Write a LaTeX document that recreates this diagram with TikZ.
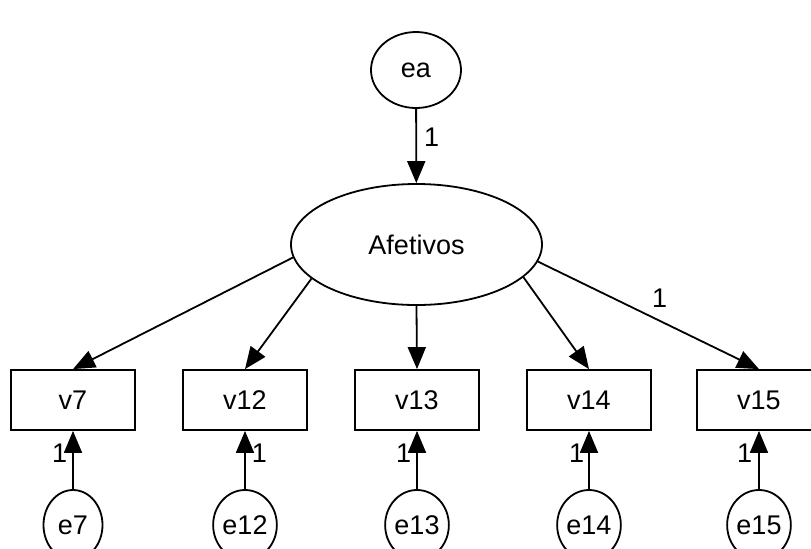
\documentclass[tikz,border=0pt]{standalone}
\usepackage{fontspec}
\setmainfont{Liberation Sans}
\usetikzlibrary{arrows.meta}
\usetikzlibrary{shapes.geometric}

\begin{document}
\begin{tikzpicture}[%%
  x=0.5pt,y=-0.5pt,%%
  every node/.style={font=\fontsize{13.5}{16}\selectfont},%%
  latentStyle/.style={ellipse,draw,line width=0.9pt,inner sep=0pt},%%
  boxStyle/.style={rectangle,draw,line width=0.9pt,minimum width=62pt,%%
    minimum height=30pt,inner sep=0pt},%%
  errorStyle/.style={ellipse,draw,line width=0.9pt,minimum width=29.5pt,%%
    minimum height=35pt,inner sep=0pt},%%
  pathStyle/.style={-{Triangle[length=11pt,width=9pt]},line width=0.9pt},%%
  weightStyle/.style={inner sep=0pt}%%
]
%%
%%
\pgfmathsetmacro{\boxrow}{400}   %% Row of the observed variables.
\pgfmathsetmacro{\errrow}{525}   %% Row of the error terms.
\useasboundingbox (0,0) rectangle (811,548);
\clip (0,0) rectangle (811,548);
%%
%%
%% The latent factor and its disturbance.
\node[latentStyle,minimum width=45pt,minimum height=38pt] (ea) at (416,70) {ea};
\node[latentStyle,minimum width=125.5pt,minimum height=60.5pt] (afetivos)
  at (416.5,244.5) {Afetivos};
%% The items and their errors.
\foreach \xpos/\idx in {73/7,245/12,417/13,589/14,759/15}{
  \node[boxStyle] (v\idx) at (\xpos,\boxrow) {v\idx};
  \node[errorStyle] (e\idx) at (\xpos,\errrow) {e\idx};
}
%%
%% Paths.
\draw[pathStyle] (ea) -- (afetivos) node[weightStyle,pos=0.38,right=3.5pt] {1};
\draw[pathStyle] (afetivos.186.7) -- (v7.north);
\draw[pathStyle] (afetivos.198.4) -- (v12.north);
\draw[pathStyle] (afetivos.south) -- (v13.north);
\draw[pathStyle] (afetivos.343) -- (v14.north);
\draw[pathStyle] (afetivos.352.8) -- (v15.north)
  node[weightStyle,pos=0.55,above=6pt] {1};
\draw[pathStyle] (e7) -- (v7) node[weightStyle,pos=0.62,left=2.5pt] {1};
\draw[pathStyle] (e12) -- (v12) node[weightStyle,pos=0.62,right=3pt] {1};
\draw[pathStyle] (e13) -- (v13) node[weightStyle,pos=0.62,left=2.5pt] {1};
\draw[pathStyle] (e14) -- (v14) node[weightStyle,pos=0.62,left=2pt] {1};
\draw[pathStyle] (e15) -- (v15) node[weightStyle,pos=0.62,left=3pt] {1};
\end{tikzpicture}
\end{document}
